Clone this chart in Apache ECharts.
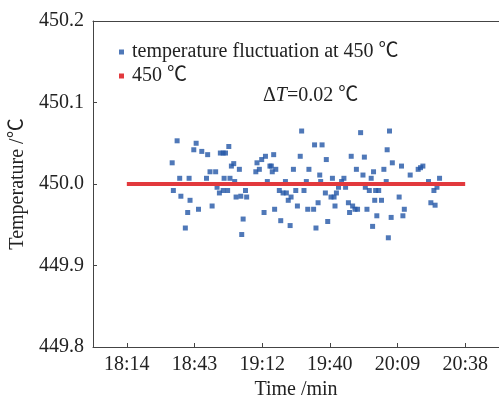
<!DOCTYPE html>
<html>
<head>
<meta charset="utf-8">
<script src="https://cdn.jsdelivr.net/npm/echarts@6/dist/echarts.min.js"></script>
<style>
  html, body { margin: 0; padding: 0; background: #fff; }
  #chart { width: 499px; height: 395px; }
</style>
</head>
<body>
<div id="chart"></div>
<script>
// minutes after 18:14
var timeMin = [19.3, 19.8, 21.4, 22.5, 23.0, 24.9, 25.9, 26.5, 26.9, 28.5,
    29.5, 30.5, 31.9, 33.9, 34.4, 35.4, 36.3, 37.8, 38.4, 39.4,
    39.8, 41.0, 41.4, 41.0, 42.0, 42.9, 43.4, 43.9, 44.5, 45.5,
    45.9, 46.5, 47.9, 48.5, 48.9, 49.5, 50.5, 51.0, 54.9, 55.4,
    56.4, 57.4, 58.4, 59.0, 59.8, 60.9, 61.5, 61.9, 62.5, 62.9,
    63.4, 64.9, 65.5, 66.5, 67.5, 67.9, 68.7, 69.5, 69.9, 70.9,
    71.9, 72.6, 73.8, 74.4, 75.4, 76.4, 77.0, 77.5, 79.5, 79.9,
    80.5, 81.4, 82.1, 82.5, 83.1, 84.5, 84.9, 85.5, 86.9, 87.5,
    88.2, 88.6, 89.2, 90.1, 91.4, 92.4, 93.1, 94.3, 94.8, 95.5,
    96.1, 97.1, 97.7, 98.2, 99.5, 100.5, 101.1, 101.5, 102.2, 103.2,
    104.0, 104.6, 105.0, 105.5, 105.9, 106.4, 107.2, 108.4, 109.4, 110.4,
    110.8, 111.3, 111.8, 112.5, 113.0, 115.9, 116.9, 117.5, 118.1, 120.6,
    124.0, 125.0, 126.0, 128.4, 129.4, 130.7, 131.2, 132.0, 133.1];
var tempVals = [450.026, 449.992, 450.053, 450.007, 449.985, 449.946, 449.965, 450.007, 449.980, 450.042,
    450.050, 449.969, 450.040, 450.007, 450.036, 450.015, 449.973, 450.015, 449.996, 449.989,
    450.038, 450.038, 450.007, 449.992, 450.038, 449.992, 450.046, 450.007, 450.022, 450.025,
    450.003, 449.984, 450.018, 449.985, 449.938, 449.957, 449.992, 449.984, 450.015, 450.026,
    450.018, 450.030, 449.965, 450.034, 450.003, 450.022, 450.022, 450.015, 450.036, 449.969,
    450.018, 449.992, 449.955, 449.989, 450.003, 449.989, 449.980, 449.949, 449.984, 450.018,
    449.992, 449.973, 450.034, 450.065, 449.992, 450.003, 449.969, 450.018, 449.969, 450.048,
    449.946, 449.977, 450.011, 450.003, 450.048, 449.989, 450.030, 449.954, 449.984, 450.007,
    449.984, 449.973, 449.989, 449.996, 450.003, 450.007, 449.996, 449.977, 449.965, 450.034,
    449.973, 449.969, 450.018, 449.969, 450.063, 450.011, 450.033, 449.996, 449.969, 449.992,
    450.007, 449.948, 450.015, 449.980, 449.992, 449.961, 449.992, 449.980, 450.018, 450.003,
    450.042, 449.934, 450.065, 449.959, 450.026, 449.984, 450.022, 449.961, 449.969, 450.011,
    450.018, 450.020, 450.022, 450.003, 449.977, 449.992, 449.974, 449.996, 450.007];
var refTime = [0, 144];
var refTemp = [450, 450];
var tickMinutes = [0, 28.8, 57.6, 86.4, 115.2, 144];
var tickLabels = ['18:14', '18:43', '19:12', '19:40', '20:09', '20:38'];

var serif = '"Liberation Serif", "Noto Sans CJK SC", serif';
var txt = '#222';

var scatterData = timeMin.map(function (t, i) { return [t, tempVals[i]]; });
var lineData = refTime.map(function (t, i) { return [t, refTemp[i]]; });

var myChart = echarts.init(document.getElementById('chart'));
var option = {
    animation: false,
    backgroundColor: '#fff',
    textStyle: { fontFamily: serif },
    grid: { left: 93, right: 0, top: 21, bottom: 48, outerBoundsMode: 'none' },
    legend: {
        orient: 'vertical',
        left: 114,
        top: 37,
        icon: 'rect',
        itemWidth: 5,
        itemHeight: 5,
        itemGap: 4,
        textStyle: { fontFamily: serif, fontSize: 20, color: txt, padding: [0, 0, 0, 3] },
        data: ['temperature fluctuation at 450 ℃', '450 ℃']
    },
    graphic: [{
        type: 'text',
        left: 263,
        top: 86,
        style: {
            text: '{n|Δ}{i|T}{n|=0.02 ℃}',
            rich: {
                n: { fontFamily: serif, fontSize: 20, fill: txt },
                i: { fontFamily: serif, fontSize: 20, fontStyle: 'italic', fill: txt }
            }
        }
    }],
    xAxis: [{
        type: 'value',
        min: -14.4,
        max: 158.4,
        name: 'Time /min',
        nameLocation: 'middle',
        nameGap: 30,
        nameTextStyle: { fontFamily: serif, fontSize: 20, color: txt },
        axisLine: { onZero: false, lineStyle: { color: '#444', width: 1 } },
        axisTick: { inside: true, length: 4, customValues: tickMinutes, lineStyle: { color: '#444' } },
        axisLabel: {
            customValues: tickMinutes,
            margin: 8,
            fontFamily: serif, fontSize: 20, color: txt,
            formatter: function (v) {
                for (var i = 0; i < tickMinutes.length; i++) {
                    if (Math.abs(tickMinutes[i] - v) < 0.01) return tickLabels[i];
                }
                return '';
            }
        },
        splitLine: { show: false }
    }, {
        type: 'value',
        position: 'top',
        min: -14.4,
        max: 158.4,
        axisLine: { show: true, onZero: false, lineStyle: { color: '#444', width: 1 } },
        axisTick: { show: false },
        axisLabel: { show: false },
        splitLine: { show: false }
    }],
    yAxis: {
        type: 'value',
        min: 449.8,
        max: 450.2,
        interval: 0.1,
        name: 'Temperature /℃',
        nameLocation: 'middle',
        nameGap: 64,
        nameTextStyle: { fontFamily: serif, fontSize: 20, color: txt },
        axisLine: { show: true, onZero: false, lineStyle: { color: '#444', width: 1 } },
        axisTick: { show: true, inside: true, length: 4, lineStyle: { color: '#444' } },
        axisLabel: {
            margin: 9,
            fontFamily: serif, fontSize: 20, color: txt,
            formatter: function (v) { return v.toFixed(1); }
        },
        splitLine: { show: false }
    },
    series: [{
        name: 'temperature fluctuation at 450 ℃',
        type: 'scatter',
        symbol: 'rect',
        symbolSize: 5,
        itemStyle: { color: '#2356a6' },
        data: scatterData,
        z: 2
    }, {
        name: '450 ℃',
        type: 'line',
        symbol: 'none',
        lineStyle: { color: '#e2393d', width: 4 },
        itemStyle: { color: '#e2393d' },
        data: lineData,
        z: 3
    }]
};
myChart.setOption(option);
</script>
</body>
</html>
